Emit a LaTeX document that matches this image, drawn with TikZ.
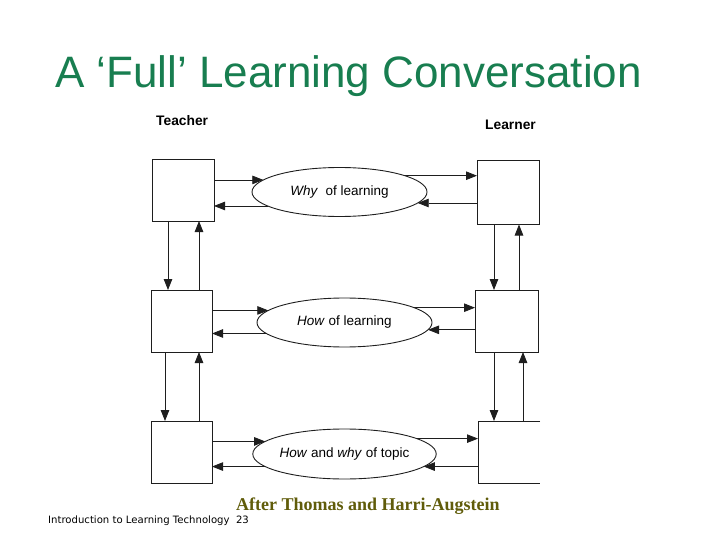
\documentclass[tikz,border=0pt]{standalone}
\usepackage{fontspec}
\setmainfont{Liberation Sans}
\newfontfamily\serifbold{Liberation Serif}
\newfontfamily\footfont{DejaVu Sans}
\usetikzlibrary{arrows.meta,shapes.geometric}
\definecolor{titlegreen}{RGB}{24,126,80}
\definecolor{olivetext}{RGB}{96,92,10}
\definecolor{linegray}{RGB}{30,30,30}
\begin{document}
\begin{tikzpicture}[x=1pt,y=-1pt,
  box/.style={draw=linegray,line width=0.9pt,minimum width=62pt,minimum height=62pt,inner sep=0pt,outer sep=0pt},
  topic/.style={draw=linegray,ellipse,line width=0.9pt,minimum width=175pt,minimum height=49pt,inner sep=0pt,outer sep=0pt,font=\fontsize{13.5}{15}\selectfont},
  arr/.style={draw=linegray,-{Triangle[length=11pt,width=8.5pt]},line width=0.8pt},
  role/.style={font=\bfseries\fontsize{13.8}{15}\selectfont,inner sep=0pt,anchor=base west}]
\useasboundingbox (0,0) rectangle (720,540);

% title
\node[anchor=base,inner sep=0pt,text=titlegreen,font=\fontsize{44}{50}\selectfont] (title) at (348.5,88) {A ‘Full’ Learning Conversation};

% roles
\node[role] (teacher) at (156,126) {Teacher};
\node[role] (learner) at (485,130) {Learner};

% boxes
\node[box] (tl) at (183,190) {};
\node[box,minimum height=64pt] (tr) at (508,192.5) {};
\node[box,minimum width=61pt] (ml) at (181.5,321) {};
\node[box,minimum width=63pt] (mr) at (506.5,321) {};
\node[box,minimum width=61pt] (bl) at (181.5,452) {};
\node[box,draw=none] (br) at (509,452) {};
\draw[draw=linegray,line width=0.9pt] (br.north east) -- (br.north west) -- (br.south west) -- (br.south east);

% ellipses
\node[topic] (e1) at (339.5,192) {\textit{Why}\ \ of learning};
\node[topic] (e2) at (344.5,322.5) {\textit{How} of learning};
\node[topic,minimum height=50pt] (e3) at (344.5,454) {\textit{How} and \textit{why} of topic};

% row 1 arrows
\draw[arr] (tl.east |- e1.171) -- (e1.171);
\draw[arr] (e1.191) -- (tl.east |- e1.191);
\draw[arr] (e1.14) -- (tr.west |- e1.14);
\draw[arr] (tr.west |- e1.352) -- (e1.352);
% row 2 arrows
\draw[arr] (ml.east |- e2.171) -- (e2.171);
\draw[arr] (e2.188) -- (ml.east |- e2.188);
\draw[arr] (e2.12) -- (mr.west |- e2.12);
\draw[arr] (mr.west |- e2.355) -- (e2.355);
% row 3 arrows
\draw[arr] (bl.east |- e3.171) -- (e3.171);
\draw[arr] (e3.189) -- (bl.east |- e3.189);
\draw[arr] (e3.12) -- (br.west |- e3.12);
\draw[arr] (br.west |- e3.351) -- (e3.351);

% vertical arrows
\draw[arr] (168,0 |- tl.south) -- (168,0 |- ml.north);
\draw[arr] (199,0 |- ml.north) -- (199,0 |- tl.south);
\draw[arr] (494,0 |- tr.south) -- (494,0 |- mr.north);
\draw[arr] (519,0 |- mr.north) -- (519,0 |- tr.south);
\draw[arr] (165,0 |- ml.south) -- (165,0 |- bl.north);
\draw[arr] (199,0 |- bl.north) -- (199,0 |- ml.south);
\draw[arr] (494,0 |- mr.south) -- (494,0 |- br.north);
\draw[arr] (523,0 |- br.north) -- (523,0 |- mr.south);

% credits
\node[anchor=base west,inner sep=0pt,text=olivetext,font=\serifbold\bfseries\fontsize{18}{20}\selectfont] (after) at (236,510) {After Thomas and Harri-Augstein};
\node[anchor=base west,inner sep=0pt,font=\footfont\fontsize{10.1}{12}\selectfont] (footer) at (48,523) {Introduction to Learning Technology\ \ 23};
\end{tikzpicture}
\end{document}
